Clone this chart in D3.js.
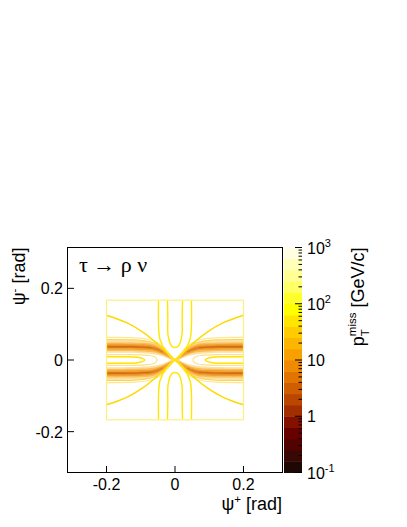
<!DOCTYPE html>
<html>
<head>
<meta charset="utf-8">
<script src="https://cdn.jsdelivr.net/npm/d3@7"></script>
<style>
body { margin: 0; background: #fff; }
text { font-family: "Liberation Sans", Arial, Helvetica, sans-serif; }
</style>
</head>
<body>
<div id="chart"></div>
<script>
// axis ticks
var xTicks = [-0.2, 0, 0.2];
var yTicks = [-0.2, 0, 0.2];

// colour scale: contour levels (log spaced) and their colours
var zLevels = [0.1, 0.1585, 0.2512, 0.3981, 0.631, 1, 1.585, 2.512, 3.981, 6.31,
               10, 15.85, 25.12, 39.81, 63.1, 100, 158.5, 251.2, 398.1, 631, 1000];
var zColors = ["#1e0805", "#3a0804", "#520200", "#680000", "#841000", "#a32e00",
               "#bb4600", "#cf5e00", "#e27400", "#f08a00", "#f8a000", "#fcb600",
               "#ffcc00", "#ffe600", "#ffff00", "#ffff2a", "#ffff66", "#ffff94",
               "#ffffb8", "#fffee2"];
var zTicks = [0.1, 1, 10, 100, 1000];
var zTickBase = ["10", "1", "10", "10", "10"];
var zTickExp = ["-1", "", "", "2", "3"];
var zMinor = [0.2, 0.3, 0.4, 0.5, 0.6, 0.7, 0.8, 0.9, 2, 3, 4, 5, 6, 7, 8, 9,
              20, 30, 40, 50, 60, 70, 80, 90, 200, 300, 400, 500, 600, 700, 800, 900];

// extent of the computed grid [psi+, psi-]
var gridX = [-0.2, 0.2];
var gridY = [-0.167, 0.167];

// low-pT valley bands, upper-left arm: [psi+, psi- low, psi- high]
var band1 = [[-0.2, 0.020, 0.055], [-0.15, 0.020, 0.055], [-0.1, 0.019, 0.054], [-0.07, 0.017, 0.051],
             [-0.05, 0.014, 0.045], [-0.035, 0.010, 0.035], [-0.02, 0.004, 0.022], [-0.01, 0.000, 0.012], [0, 0, 0.002]];
var band2 = [[-0.2, 0.025, 0.049], [-0.15, 0.025, 0.049], [-0.1, 0.024, 0.048], [-0.07, 0.022, 0.046],
             [-0.05, 0.019, 0.040], [-0.035, 0.014, 0.031], [-0.02, 0.007, 0.019], [-0.01, 0.002, 0.010], [0, 0, 0.001]];
var band3 = [[-0.2, 0.029, 0.045], [-0.15, 0.029, 0.045], [-0.1, 0.028, 0.044], [-0.07, 0.027, 0.042],
             [-0.05, 0.0225, 0.0355], [-0.035, 0.017, 0.027], [-0.02, 0.0095, 0.0165], [-0.01, 0.004, 0.008]];
var band4 = [[-0.2, 0.0335, 0.0405], [-0.15, 0.0335, 0.0405], [-0.1, 0.0325, 0.0395], [-0.07, 0.0305, 0.0375],
             [-0.05, 0.026, 0.032], [-0.035, 0.020, 0.024]];
var band5 = [[-0.2, 0.0358, 0.0382], [-0.15, 0.0358, 0.0382], [-0.1, 0.0348, 0.0372], [-0.07, 0.0328, 0.0352]];
var bands = [band1, band2, band3, band4, band5];

// contour lines, one quadrant each [psi+, psi-]
var diagLine = [[-0.2, 0.125], [-0.141, 0.104], [-0.093, 0.077], [-0.044, 0.039], [-0.015, 0.013], [0, 0]];
var vOuterLine = [[-0.048, 0.167], [-0.048, 0.095], [-0.044, 0.058], [-0.024, 0.021], [-0.005, 0.004], [0, 0]];
var vInnerArm = [[-0.022, 0.167], [-0.021, 0.12], [-0.02, 0.067], [-0.01, 0.039], [0, 0.035]];
var hOuterArm1 = [[-0.2, 0.063], [-0.12, 0.062], [-0.08, 0.058], [-0.05, 0.048], [-0.03, 0.033], [-0.015, 0.016], [-0.006, 0]];
var hOuterArm2 = [[-0.2, 0.057], [-0.12, 0.056], [-0.08, 0.052], [-0.05, 0.043], [-0.032, 0.029], [-0.018, 0.014], [-0.01, 0]];
var hInnerArm1 = [[-0.2, 0.009], [-0.14, 0.009], [-0.11, 0.0075], [-0.095, 0.0045], [-0.088, 0]];
var hInnerArm2 = [[-0.2, 0.015], [-0.12, 0.015], [-0.08, 0.013], [-0.06, 0.009], [-0.052, 0]];

var svg = d3.select("#chart")
    .append("svg")
    .attr("width", 407)
    .attr("height", 527);

var x = d3.scaleLinear().domain([-0.314, 0.314]).range([67.5, 282.5]);
var y = d3.scaleLinear().domain([-0.314, 0.314]).range([472.5, 247.5]);
var z = d3.scaleLog().domain([0.1, 1000]).range([472.5, 247.5]);

svg.append("clipPath").attr("id", "grid")
    .append("rect")
    .attr("x", x(gridX[0])).attr("y", y(gridY[1]))
    .attr("width", x(gridX[1]) - x(gridX[0]))
    .attr("height", y(gridY[0]) - y(gridY[1]));

var plot = svg.append("g").attr("clip-path", "url(#grid)");

// valley bands, mirrored in the four quadrants
var bandFills = ["#fde0a0", "#f9bc58", "#f2a030", "#e0801e", "#cc6614"];
[-1, 1].forEach(function (sx) {
    [1, -1].forEach(function (sy) {
        bands.forEach(function (b, i) {
            var area = d3.area()
                .x(d => x(sx * d[0]))
                .y0(d => y(sy * d[1]))
                .y1(d => y(sy * d[2]))
                .curve(d3.curveCatmullRom);
            plot.append("path")
                .attr("d", area(b))
                .attr("fill", bandFills[i])
                .attr("stroke", "none");
        });
    });
});

var line = d3.line()
    .x(d => x(d[0]))
    .y(d => y(d[1]))
    .curve(d3.curveCatmullRom);

function flip(pts, sx, sy) {
    return pts.map(p => [sx * p[0], sy * p[1]]);
}
// U opening sideways: arm plus its mirror in psi-
function hU(arm, sx) {
    var a = flip(arm, sx, 1);
    var b = flip(arm, sx, -1).reverse().slice(1);
    return a.concat(b);
}
// U opening vertically: arm plus its mirror in psi+
function vU(arm, sy) {
    var a = flip(arm, 1, sy);
    var b = flip(arm, -1, sy).reverse().slice(1);
    return a.concat(b);
}

function drawLine(pts, color, w) {
    plot.append("path")
        .attr("d", line(pts))
        .attr("fill", "none")
        .attr("stroke", color)
        .attr("stroke-width", w);
}

[-1, 1].forEach(function (s) {
    drawLine(hU(hOuterArm1, s), "#ffe88c", 1.2);
    drawLine(hU(hOuterArm2, s), "#fcd25a", 1.2);
    drawLine(hU(hInnerArm2, s), "#fde08a", 1.1);
    drawLine(hU(hInnerArm1, s), "#ffe200", 1.4);
    drawLine(vU(vInnerArm, s), "#ffe600", 1.4);
});
[-1, 1].forEach(function (sx) {
    [1, -1].forEach(function (sy) {
        drawLine(flip(diagLine, sx, sy), "#ffd800", 1.4);
        drawLine(flip(vOuterLine, sx, sy), "#ffe600", 1.4);
    });
});

// grid boundary
svg.append("rect")
    .attr("x", x(gridX[0])).attr("y", y(gridY[1]))
    .attr("width", x(gridX[1]) - x(gridX[0]))
    .attr("height", y(gridY[0]) - y(gridY[1]))
    .attr("fill", "none")
    .attr("stroke", "#ffef80")
    .attr("stroke-width", 1.2);

// frame
svg.append("rect")
    .attr("x", 67.5).attr("y", 247.5)
    .attr("width", 215).attr("height", 225)
    .attr("fill", "none")
    .attr("stroke", "#000")
    .attr("stroke-width", 1);

// x axis ticks and labels
xTicks.forEach(function (t) {
    svg.append("line")
        .attr("x1", x(t)).attr("x2", x(t))
        .attr("y1", 472.5).attr("y2", 466)
        .attr("stroke", "#000");
    svg.append("text")
        .attr("x", x(t)).attr("y", 490)
        .attr("text-anchor", "middle")
        .attr("font-size", 16)
        .text(String(t));
});
yTicks.forEach(function (t) {
    svg.append("line")
        .attr("x1", 67.5).attr("x2", 74)
        .attr("y1", y(t)).attr("y2", y(t))
        .attr("stroke", "#000");
    svg.append("text")
        .attr("x", 63).attr("y", y(t) + 6)
        .attr("text-anchor", "end")
        .attr("font-size", 16)
        .text(String(t));
});

// axis titles
var xt = svg.append("text")
    .attr("x", 282).attr("y", 510)
    .attr("text-anchor", "end")
    .attr("font-size", 18);
xt.append("tspan").text("ψ");
xt.append("tspan").attr("font-size", 11.5).attr("dy", -7).text("+");
xt.append("tspan").attr("dy", 7).text(" [rad]");

var yt = svg.append("text")
    .attr("transform", "translate(25,247.5) rotate(-90)")
    .attr("text-anchor", "end")
    .attr("font-size", 18);
yt.append("tspan").text("ψ");
yt.append("tspan").attr("font-size", 11.5).attr("dy", -7).text("-");
yt.append("tspan").attr("dy", 7).text(" [rad]");

// process label
svg.append("text")
    .attr("x", 79).attr("y", 272)
    .style("font-family", "'Liberation Serif', 'DejaVu Serif', serif")
    .attr("font-size", 22)
    .text("τ → ρ ν");

// colour bar
var barX = 284, barW = 18;
zColors.forEach(function (c, i) {
    svg.append("rect")
        .attr("x", barX)
        .attr("y", z(zLevels[i + 1]))
        .attr("width", barW)
        .attr("height", z(zLevels[i]) - z(zLevels[i + 1]) + 0.5)
        .attr("fill", c);
});
zTicks.forEach(function (t, i) {
    svg.append("line")
        .attr("x1", barX + barW).attr("x2", barX + barW - 7)
        .attr("y1", z(t)).attr("y2", z(t))
        .attr("stroke", "#000");
    var lab = svg.append("text")
        .attr("x", barX + barW + 5).attr("y", z(t) + 6)
        .attr("font-size", 16);
    lab.append("tspan").text(zTickBase[i]);
    if (zTickExp[i]) {
        lab.append("tspan").attr("font-size", 11).attr("dy", -7).text(zTickExp[i]);
    }
});
zMinor.forEach(function (t) {
    svg.append("line")
        .attr("x1", barX + barW).attr("x2", barX + barW - 3.5)
        .attr("y1", z(t)).attr("y2", z(t))
        .attr("stroke", "#000");
});

// colour bar title
var zt = svg.append("text")
    .attr("transform", "translate(364,247.5) rotate(-90)")
    .attr("text-anchor", "end")
    .attr("font-size", 18);
zt.append("tspan").text("p");
zt.append("tspan").attr("font-size", 11.5).attr("dy", 5).text("T");
zt.append("tspan").attr("font-size", 11.5).attr("dx", -7).attr("dy", -13).text("miss");
zt.append("tspan").attr("dy", 8).text(" [GeV/c]");
</script>
</body>
</html>
